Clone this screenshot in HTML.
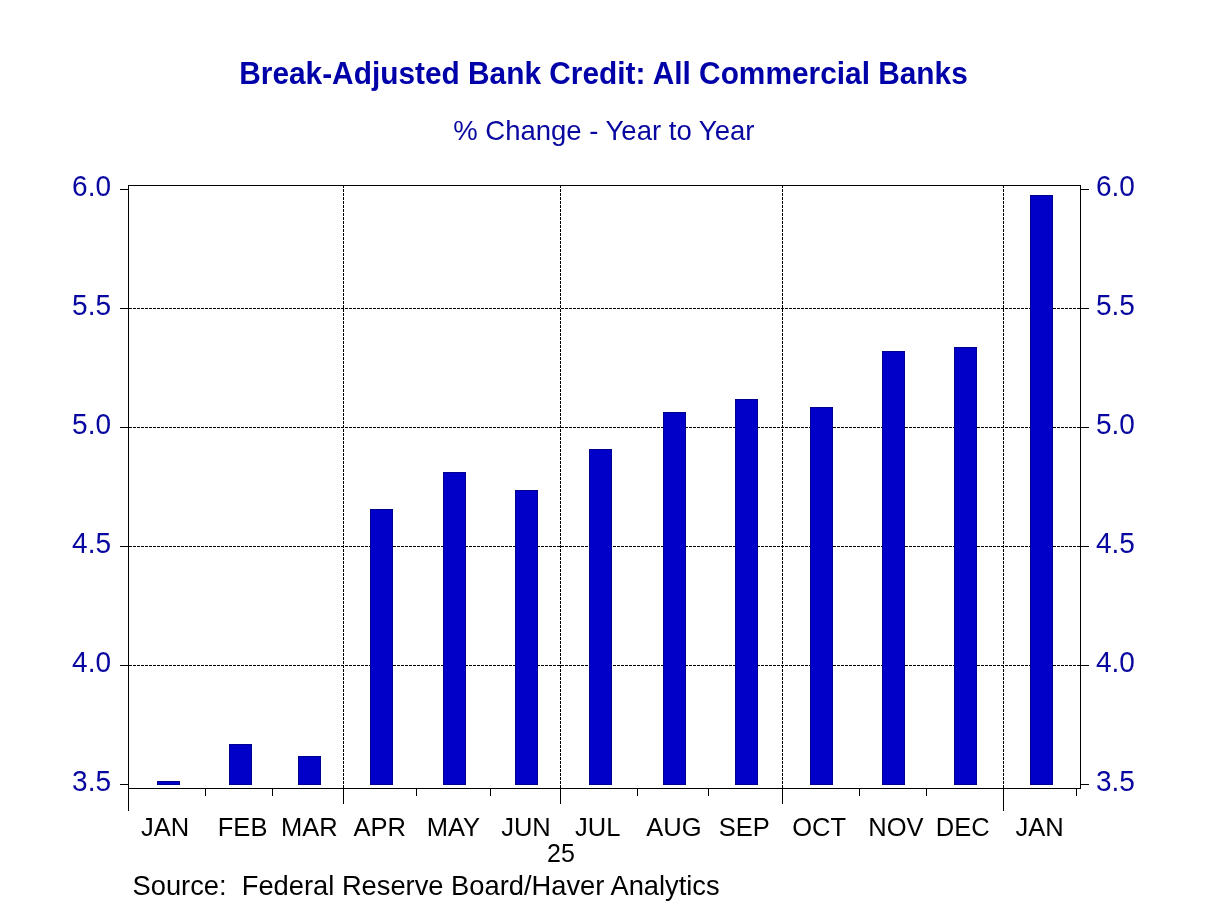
<!DOCTYPE html>
<html><head><meta charset="utf-8"><title>Break-Adjusted Bank Credit</title><style>html,body{margin:0;padding:0;background:#fff;width:1208px;height:906px;overflow:hidden;font-family:"Liberation Sans",sans-serif}</style></head><body>
<svg width="1208" height="906" viewBox="0 0 1208 906" style="display:block;will-change:transform">
<rect x="0" y="0" width="1208" height="906" fill="#fff"/>
<g stroke="#000" stroke-width="1" stroke-dasharray="3 1" shape-rendering="crispEdges"><line x1="129" y1="308.5" x2="1080" y2="308.5"/><line x1="129" y1="427.5" x2="1080" y2="427.5"/><line x1="129" y1="546.5" x2="1080" y2="546.5"/><line x1="129" y1="665.5" x2="1080" y2="665.5"/><line x1="343.5" y1="185" x2="343.5" y2="788"/><line x1="560.5" y1="185" x2="560.5" y2="788"/><line x1="782.5" y1="185" x2="782.5" y2="788"/><line x1="1003.5" y1="185" x2="1003.5" y2="788"/></g>
<g fill="#0000C8" shape-rendering="crispEdges"><rect x="157" y="781" width="23" height="4" fill="#000090"/><rect x="158" y="782" width="21" height="2"/><rect x="229" y="744" width="23" height="41" fill="#000090"/><rect x="230" y="745" width="21" height="39"/><rect x="298" y="756" width="23" height="29" fill="#000090"/><rect x="299" y="757" width="21" height="27"/><rect x="370" y="509" width="23" height="276" fill="#000090"/><rect x="371" y="510" width="21" height="274"/><rect x="443" y="472" width="23" height="313" fill="#000090"/><rect x="444" y="473" width="21" height="311"/><rect x="515" y="490" width="23" height="295" fill="#000090"/><rect x="516" y="491" width="21" height="293"/><rect x="589" y="449" width="23" height="336" fill="#000090"/><rect x="590" y="450" width="21" height="334"/><rect x="663" y="412" width="23" height="373" fill="#000090"/><rect x="664" y="413" width="21" height="371"/><rect x="735" y="399" width="23" height="386" fill="#000090"/><rect x="736" y="400" width="21" height="384"/><rect x="810" y="407" width="23" height="378" fill="#000090"/><rect x="811" y="408" width="21" height="376"/><rect x="882" y="351" width="23" height="434" fill="#000090"/><rect x="883" y="352" width="21" height="432"/><rect x="954" y="347" width="23" height="438" fill="#000090"/><rect x="955" y="348" width="21" height="436"/><rect x="1030" y="195" width="23" height="590" fill="#000090"/><rect x="1031" y="196" width="21" height="588"/></g>
<g fill="#000" shape-rendering="crispEdges">
<rect x="128" y="185" width="953" height="1"/>
<rect x="128" y="788" width="953" height="1"/>
<rect x="128" y="185" width="1" height="626"/>
<rect x="1080" y="185" width="1" height="604"/>
<rect x="120" y="189" width="8" height="1"/>
<rect x="1081" y="189" width="8" height="1"/>
<rect x="120" y="308" width="8" height="1"/>
<rect x="1081" y="308" width="8" height="1"/>
<rect x="120" y="427" width="8" height="1"/>
<rect x="1081" y="427" width="8" height="1"/>
<rect x="120" y="546" width="8" height="1"/>
<rect x="1081" y="546" width="8" height="1"/>
<rect x="120" y="665" width="8" height="1"/>
<rect x="1081" y="665" width="8" height="1"/>
<rect x="120" y="784" width="8" height="1"/>
<rect x="1081" y="784" width="8" height="1"/>
<rect x="205" y="788" width="1" height="8"/>
<rect x="272" y="788" width="1" height="8"/>
<rect x="416" y="788" width="1" height="8"/>
<rect x="490" y="788" width="1" height="8"/>
<rect x="637" y="788" width="1" height="8"/>
<rect x="708" y="788" width="1" height="8"/>
<rect x="859" y="788" width="1" height="8"/>
<rect x="926" y="788" width="1" height="8"/>
<rect x="1076" y="788" width="1" height="8"/>
<rect x="343" y="788" width="1" height="16"/>
<rect x="560" y="788" width="1" height="16"/>
<rect x="782" y="788" width="1" height="16"/>
<rect x="1003" y="788" width="1" height="23"/>
</g>
<text x="603.5" y="83.6" transform="translate(0 83.6) scale(1 1.06) translate(0 -83.6)" text-anchor="middle" font-family="'Liberation Sans', sans-serif" font-weight="bold" font-size="29.85" fill="#0000A8">Break-Adjusted Bank Credit: All Commercial Banks</text>
<text x="603.8" y="140" text-anchor="middle" font-family="'Liberation Sans', sans-serif" font-size="27.5" fill="#0808a0">% Change - Year to Year</text>
<text x="111" y="195.7" transform="translate(0 195.7) scale(1 1.06) translate(0 -195.7)" text-anchor="end" font-family="'Liberation Sans', sans-serif" font-size="28" fill="#0808a0">6.0</text>
<text x="1096" y="195.7" transform="translate(0 195.7) scale(1 1.06) translate(0 -195.7)" font-family="'Liberation Sans', sans-serif" font-size="28" fill="#0808a0">6.0</text>
<text x="111" y="314.7" transform="translate(0 314.7) scale(1 1.06) translate(0 -314.7)" text-anchor="end" font-family="'Liberation Sans', sans-serif" font-size="28" fill="#0808a0">5.5</text>
<text x="1096" y="314.7" transform="translate(0 314.7) scale(1 1.06) translate(0 -314.7)" font-family="'Liberation Sans', sans-serif" font-size="28" fill="#0808a0">5.5</text>
<text x="111" y="433.7" transform="translate(0 433.7) scale(1 1.06) translate(0 -433.7)" text-anchor="end" font-family="'Liberation Sans', sans-serif" font-size="28" fill="#0808a0">5.0</text>
<text x="1096" y="433.7" transform="translate(0 433.7) scale(1 1.06) translate(0 -433.7)" font-family="'Liberation Sans', sans-serif" font-size="28" fill="#0808a0">5.0</text>
<text x="111" y="552.7" transform="translate(0 552.7) scale(1 1.06) translate(0 -552.7)" text-anchor="end" font-family="'Liberation Sans', sans-serif" font-size="28" fill="#0808a0">4.5</text>
<text x="1096" y="552.7" transform="translate(0 552.7) scale(1 1.06) translate(0 -552.7)" font-family="'Liberation Sans', sans-serif" font-size="28" fill="#0808a0">4.5</text>
<text x="111" y="671.7" transform="translate(0 671.7) scale(1 1.06) translate(0 -671.7)" text-anchor="end" font-family="'Liberation Sans', sans-serif" font-size="28" fill="#0808a0">4.0</text>
<text x="1096" y="671.7" transform="translate(0 671.7) scale(1 1.06) translate(0 -671.7)" font-family="'Liberation Sans', sans-serif" font-size="28" fill="#0808a0">4.0</text>
<text x="111" y="790.7" transform="translate(0 790.7) scale(1 1.06) translate(0 -790.7)" text-anchor="end" font-family="'Liberation Sans', sans-serif" font-size="28" fill="#0808a0">3.5</text>
<text x="1096" y="790.7" transform="translate(0 790.7) scale(1 1.06) translate(0 -790.7)" font-family="'Liberation Sans', sans-serif" font-size="28" fill="#0808a0">3.5</text>
<text x="165" y="836.4" text-anchor="middle" font-family="'Liberation Sans', sans-serif" font-size="25.5" fill="#000">JAN</text>
<text x="242.6" y="836.4" text-anchor="middle" font-family="'Liberation Sans', sans-serif" font-size="25.5" fill="#000">FEB</text>
<text x="309.3" y="836.4" text-anchor="middle" font-family="'Liberation Sans', sans-serif" font-size="25.5" fill="#000">MAR</text>
<text x="379.7" y="836.4" text-anchor="middle" font-family="'Liberation Sans', sans-serif" font-size="25.5" fill="#000">APR</text>
<text x="453.4" y="836.4" text-anchor="middle" font-family="'Liberation Sans', sans-serif" font-size="25.5" fill="#000">MAY</text>
<text x="526" y="836.4" text-anchor="middle" font-family="'Liberation Sans', sans-serif" font-size="25.5" fill="#000">JUN</text>
<text x="597.7" y="836.4" text-anchor="middle" font-family="'Liberation Sans', sans-serif" font-size="25.5" fill="#000">JUL</text>
<text x="674" y="836.4" text-anchor="middle" font-family="'Liberation Sans', sans-serif" font-size="25.5" fill="#000">AUG</text>
<text x="744.3" y="836.4" text-anchor="middle" font-family="'Liberation Sans', sans-serif" font-size="25.5" fill="#000">SEP</text>
<text x="819.2" y="836.4" text-anchor="middle" font-family="'Liberation Sans', sans-serif" font-size="25.5" fill="#000">OCT</text>
<text x="896" y="836.4" text-anchor="middle" font-family="'Liberation Sans', sans-serif" font-size="25.5" fill="#000">NOV</text>
<text x="962.7" y="836.4" text-anchor="middle" font-family="'Liberation Sans', sans-serif" font-size="25.5" fill="#000">DEC</text>
<text x="1039.5" y="836.4" text-anchor="middle" font-family="'Liberation Sans', sans-serif" font-size="25.5" fill="#000">JAN</text>
<text x="561" y="861.5" text-anchor="middle" font-family="'Liberation Sans', sans-serif" font-size="25" fill="#000">25</text>
<text x="132.5" y="895.2" font-family="'Liberation Sans', sans-serif" font-size="27.3" fill="#000" style="white-space:pre">Source:&#160; Federal Reserve Board/Haver Analytics</text>
</svg>
</body></html>
